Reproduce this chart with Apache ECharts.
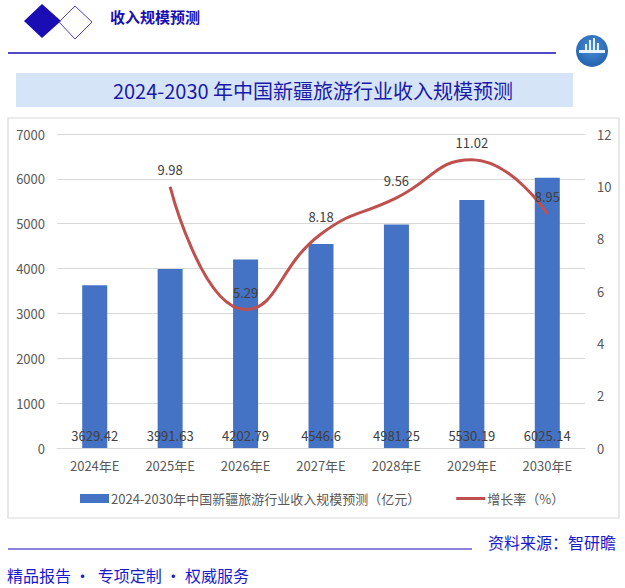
<!DOCTYPE html>
<html>
<head>
<meta charset="utf-8">
<script src="https://cdn.jsdelivr.net/npm/echarts@6/dist/echarts.min.js"></script>
<style>
  html, body { margin: 0; padding: 0; background: #fff; }
  #chart { width: 625px; height: 588px; }
</style>
</head>
<body>
<div id="chart"></div>
<script>
const categories = ['2024年E', '2025年E', '2026年E', '2027年E', '2028年E', '2029年E', '2030年E'];
const revenue = [3629.42, 3991.63, 4202.79, 4546.6, 4981.25, 5530.19, 6025.14];
const growth = [null, 9.98, 5.29, 8.18, 9.56, 11.02, 8.95];
const barName = '2024-2030年中国新疆旅游行业收入规模预测（亿元）';
const lineName = '增长率（%）';

const font = '"Noto Sans CJK SC", "Microsoft YaHei", sans-serif';
const navy = '#1a0db3';

const myChart = echarts.init(document.getElementById('chart'), null, { renderer: 'svg' });
const option = {
  backgroundColor: '#fff',
  textStyle: { fontFamily: font },
  grid: { left: 57, right: 40, top: 134, bottom: 140 },
  legend: {
    top: 487,
    left: 75,
    itemGap: 36,
    itemWidth: 29,
    itemHeight: 9,
    textStyle: { color: '#595959', fontSize: 13, fontFamily: font, padding: [0, 0, 0, -3] },
    data: [
      { name: barName, icon: 'rect' },
      { name: lineName, icon: 'path://M0,0 L0,0.01 Z M0,3 L29,3 L29,6 L0,6 Z M29,9 L29,8.99 Z' }
    ]
  },
  xAxis: {
    type: 'category',
    data: categories,
    axisLine: { lineStyle: { color: '#d9d9d9' } },
    axisTick: { show: false },
    axisLabel: { color: '#595959', fontSize: 13, margin: 11 }
  },
  yAxis: [
    {
      type: 'value',
      min: 0,
      max: 7000,
      interval: 1000,
      axisLabel: { color: '#595959', fontSize: 13, margin: 12, formatter: (v) => String(v) },
      splitLine: { lineStyle: { color: '#d9d9d9' } }
    },
    {
      type: 'value',
      min: 0,
      max: 12,
      interval: 2,
      axisLabel: { color: '#595959', fontSize: 13, margin: 12 },
      splitLine: { show: false }
    }
  ],
  series: [
    {
      name: barName,
      type: 'bar',
      data: revenue,
      barWidth: 25,
      itemStyle: { color: '#4472c4' },
      label: {
        show: true,
        position: 'insideBottom',
        distance: 6,
        color: '#404040',
        fontSize: 13
      }
    },
    {
      name: lineName,
      type: 'line',
      yAxisIndex: 1,
      data: growth,
      smooth: 0.5,
      showSymbol: true,
      symbol: 'circle',
      symbolSize: 1,
      connectNulls: false,
      lineStyle: { color: '#c0504d', width: 3 },
      itemStyle: { color: '#c0504d' },
      label: {
        show: true,
        position: 'top',
        distance: 10,
        color: '#404040',
        fontSize: 13
      }
    }
  ],
  graphic: [
    // header diamonds
    { type: 'polygon', shape: { points: [[24, 21], [42, 4], [61, 21], [42, 38]] }, style: { fill: navy } },
    { type: 'polygon', shape: { points: [[59, 22], [75, 6], [92, 22], [75, 39]] }, style: { fill: 'none', stroke: '#4a40c8', lineWidth: 1 } },
    { type: 'text', left: 110, top: 9, style: { text: '收入规模预测', fill: navy, font: 'bold 15px ' + font } },
    { type: 'line', shape: { x1: 8, y1: 53, x2: 556, y2: 53 }, style: { stroke: navy, lineWidth: 1.5 } },
    // logo
    {
      type: 'circle', shape: { cx: 592, cy: 51, r: 16 },
      style: { fill: new echarts.graphic.RadialGradient(0.5, 0.4, 0.7, [{ offset: 0, color: '#4a8fd8' }, { offset: 1, color: '#1b5aa8' }]) }
    },
    { type: 'rect', shape: { x: 579, y: 50, width: 26, height: 3 }, style: { fill: '#e8f2ff' } },
    { type: 'rect', shape: { x: 585, y: 44, width: 2, height: 6 }, style: { fill: '#e8f2ff' } },
    { type: 'rect', shape: { x: 589, y: 40, width: 2, height: 10 }, style: { fill: '#e8f2ff' } },
    { type: 'rect', shape: { x: 593, y: 38, width: 2, height: 12 }, style: { fill: '#e8f2ff' } },
    { type: 'rect', shape: { x: 597, y: 43, width: 2, height: 7 }, style: { fill: '#e8f2ff' } },
    // title box
    { type: 'rect', shape: { x: 16, y: 73, width: 557, height: 34 }, style: { fill: '#d6e4f8' } },
    { type: 'text', x: 313, y: 90, style: { text: '2024-2030 年中国新疆旅游行业收入规模预测', fill: '#1a1aa8', font: '20px ' + font, align: 'center', verticalAlign: 'middle' } },
    // chart frame
    { type: 'rect', shape: { x: 8, y: 118, width: 611, height: 400 }, style: { fill: 'none', stroke: '#d9d9d9', lineWidth: 1.2 }, z: -1 },
    // footer
    { type: 'line', shape: { x1: 8, y1: 549, x2: 472, y2: 549 }, style: { stroke: navy, lineWidth: 1.2 } },
    { type: 'text', right: 9, top: 534, style: { text: '资料来源：智研瞻', fill: '#1a1acc', font: '16px ' + font } },
    { type: 'text', left: 7, top: 567, style: { text: '精品报告 ·  专项定制 · 权威服务', fill: '#1a1acc', font: '16px ' + font } }
  ]
};
option && myChart.setOption(option);
</script>
</body>
</html>
